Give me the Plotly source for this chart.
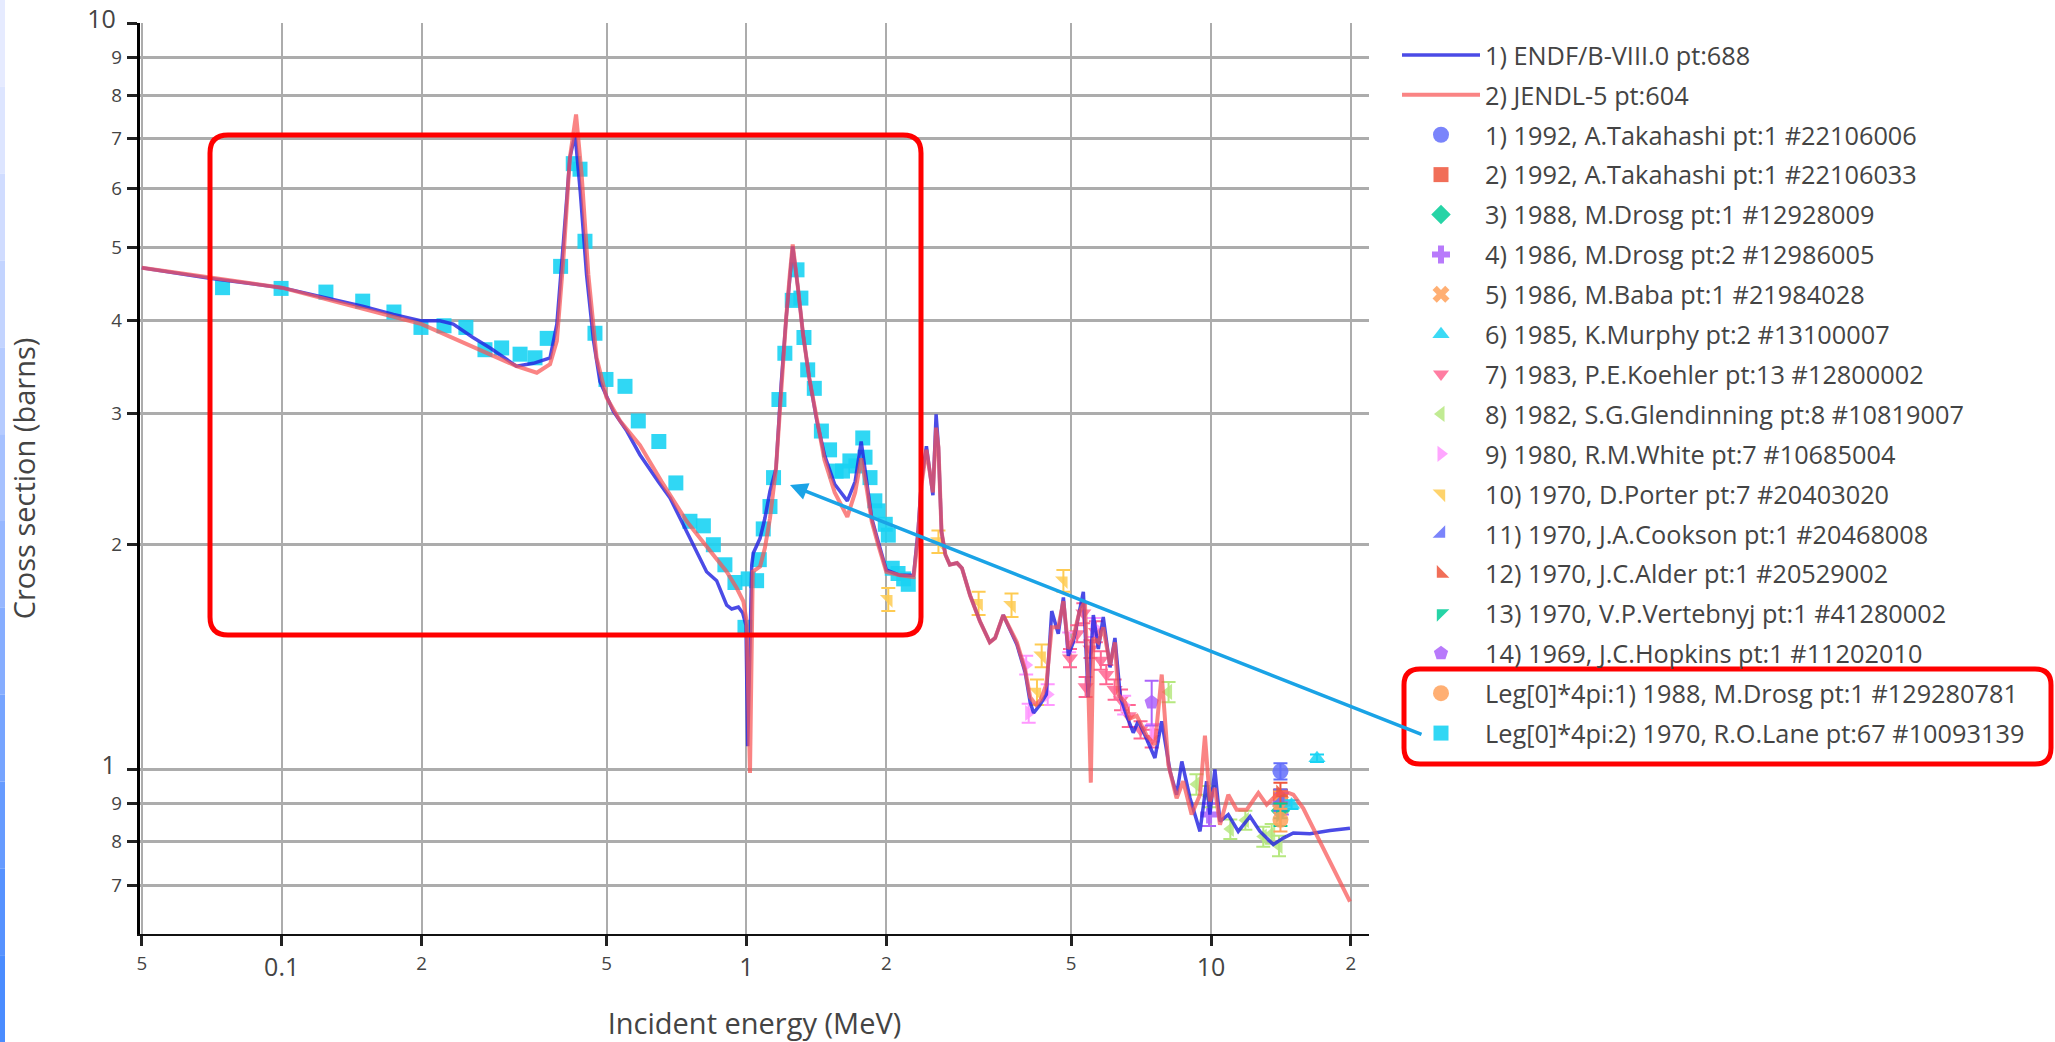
import plotly.graph_objects as go

# ---------------- evaluated data ----------------
endf_e = [0.05, 0.07, 0.10, 0.125, 0.15, 0.174, 0.20, 0.219, 0.234, 0.258, 0.281, 0.32, 0.348, 0.378,
          0.391, 0.404, 0.417, 0.428, 0.439, 0.453, 0.469, 0.484, 0.517, 0.553, 0.59, 0.646, 0.685,
          0.72, 0.769, 0.821, 0.863, 0.907, 0.93, 0.961, 0.982, 0.998, 1.0065, 1.027, 1.035, 1.07,
          1.096, 1.124, 1.158, 1.188, 1.218, 1.24, 1.258, 1.291, 1.324, 1.365, 1.418, 1.472, 1.549,
          1.649, 1.714, 1.766, 1.815, 1.861, 1.921, 2.0, 2.14, 2.29, 2.34, 2.38, 2.44, 2.52, 2.56,
          2.59, 2.63, 2.68, 2.74, 2.84, 2.91, 3.03, 3.18, 3.34, 3.43, 3.57, 3.82, 3.98, 4.08, 4.15,
          4.28, 4.42, 4.54, 4.69, 4.81, 4.93, 5.05, 5.31, 5.44, 5.58, 5.72, 5.86, 6.06, 6.21, 6.38,
          6.58, 6.80, 6.97, 7.21, 7.57, 7.83, 8.16, 8.43, 8.65, 9.01, 9.465, 9.78, 9.94, 10.19,
          10.45, 10.89, 11.44, 12.13, 12.74, 13.61, 14.30, 15.03, 16.32, 18.03, 19.90]
endf_xs = [4.70, 4.55, 4.42, 4.28, 4.17, 4.07, 3.99, 3.99, 3.95, 3.79, 3.67, 3.47, 3.50, 3.56,
           3.95, 5.10, 6.60, 7.09, 5.95, 4.60, 3.75, 3.31, 3.02, 2.84, 2.64, 2.43, 2.31,
           2.17, 2.00, 1.84, 1.79, 1.66, 1.64, 1.65, 1.62, 1.56, 1.074, 1.88, 1.95, 2.04,
           2.17, 2.36, 2.53, 3.28, 4.03, 4.60, 5.02, 4.42, 3.83, 3.35, 2.93, 2.64, 2.41,
           2.29, 2.43, 2.75, 2.41, 2.17, 2.02, 1.85, 1.82, 1.82, 2.08, 2.43, 2.71, 2.33, 2.99,
           2.70, 2.08, 1.94, 1.88, 1.89, 1.86, 1.71, 1.58, 1.48, 1.50, 1.61, 1.47, 1.35, 1.23, 1.19,
           1.22, 1.26, 1.63, 1.52, 1.70, 1.42, 1.48, 1.73, 1.25, 1.61, 1.45, 1.60, 1.37, 1.50, 1.25,
           1.18, 1.12, 1.16, 1.11, 1.036, 1.16, 0.994, 0.925, 1.025, 0.915, 0.826, 0.964, 0.870, 1.0,
           0.852, 0.870, 0.826, 0.865, 0.826, 0.793, 0.809, 0.822, 0.820, 0.828, 0.834]

jendl_e = [0.05, 0.10, 0.20, 0.219, 0.242, 0.281, 0.32, 0.354, 0.378, 0.391, 0.404, 0.417, 0.430,
           0.442, 0.457, 0.476, 0.50, 0.535, 0.59, 0.657, 0.696, 0.744, 0.795, 0.849, 0.907, 0.953,
           0.985, 1.001, 1.018, 1.032, 1.07, 1.096, 1.124, 1.158, 1.188, 1.218, 1.24, 1.258, 1.291,
           1.324, 1.365, 1.418, 1.472, 1.549, 1.649, 1.714, 1.766, 1.815, 1.861, 1.921, 2.0, 2.14,
           2.29, 2.34, 2.38, 2.44, 2.52, 2.56, 2.59, 2.63, 2.68, 2.74, 2.84, 2.91, 3.03, 3.18, 3.34,
           3.43, 3.57, 3.82, 3.98, 4.08, 4.20, 4.30, 4.42, 4.54, 4.69, 4.81, 4.93, 5.05, 5.20, 5.35,
           5.44, 5.51, 5.58, 5.72, 5.86, 6.06, 6.21, 6.31, 6.53, 6.69, 6.92, 7.27, 7.57, 7.83, 8.09,
           8.43, 8.71, 9.08, 9.465, 9.70, 9.94, 10.19, 10.45, 10.89, 11.35, 11.93, 12.64, 13.17,
           13.84, 14.42, 15.03, 15.79, 16.87, 18.32, 19.90]
jendl_xs = [4.70, 4.42, 3.95, 3.85, 3.75, 3.60, 3.47, 3.40, 3.49, 3.75, 4.85, 6.60, 7.54,
            6.27, 4.60, 3.56, 3.15, 2.93, 2.72, 2.43, 2.29, 2.15, 2.04, 1.94, 1.84, 1.75,
            1.68, 1.58, 0.989, 1.84, 1.87, 1.98, 2.17, 2.53, 3.28, 4.03, 4.60, 5.05, 4.42,
            3.83, 3.35, 2.93, 2.60, 2.35, 2.18, 2.35, 2.61, 2.38, 2.15, 2.00, 1.84, 1.82,
            1.81, 2.05, 2.40, 2.68, 2.35, 2.87, 2.70, 2.08, 1.94, 1.88, 1.89, 1.86, 1.71, 1.58, 1.48,
            1.50, 1.61, 1.48, 1.36, 1.25, 1.22, 1.24, 1.30, 1.55, 1.55, 1.68, 1.45, 1.50, 1.62, 1.68,
            1.30, 0.96, 1.50, 1.48, 1.55, 1.38, 1.48, 1.26, 1.23, 1.17, 1.18, 1.11, 1.079, 1.34, 1.015,
            0.915, 0.964, 0.870, 0.925, 1.11, 0.906, 0.944, 0.843, 0.925, 0.883, 0.883, 0.930, 0.897,
            0.925, 0.934, 0.925, 0.887, 0.817, 0.737, 0.665]

# ---------------- experimental data ----------------
takahashi1_e, takahashi1_xs, takahashi1_err = [14.1], [0.994], [0.025]
takahashi2_e, takahashi2_xs, takahashi2_err = [14.1], [0.92], [0.02]
drosg88_e, drosg88_xs, drosg88_err = [14.1], [0.88], [0.02]
drosg86_e, drosg86_xs, drosg86_err = [9.9, 14.2], [0.87, 0.90], [0.03, 0.03]
baba_e, baba_xs, baba_err = [14.1], [0.905], [0.03]
murphy_e, murphy_xs, murphy_err = [14.9, 16.9], [0.897, 1.035], [0.012, 0.012]
koehler_e = [4.97, 5.15, 5.31, 5.37, 5.50, 5.65, 5.79, 5.95, 6.20, 6.40, 6.65, 7.05, 7.45]
koehler_xs = [1.41, 1.52, 1.62, 1.29, 1.45, 1.53, 1.40, 1.34, 1.28, 1.24, 1.18, 1.13, 1.10]
koehler_err = [0.04, 0.04, 0.05, 0.04, 0.04, 0.05, 0.04, 0.04, 0.04, 0.04, 0.04, 0.03, 0.03]
glendinning_e = [8.1, 9.3, 9.9, 11.0, 11.85, 12.95, 13.5, 14.0]
glendinning_xs = [1.27, 0.955, 0.92, 0.832, 0.855, 0.813, 0.82, 0.79]
glendinning_err = [0.04, 0.03, 0.03, 0.025, 0.025, 0.025, 0.025, 0.025]
white_e = [4.00, 4.05, 4.45, 4.95, 5.60, 6.50, 7.50]
white_xs = [1.38, 1.19, 1.26, 1.48, 1.55, 1.22, 1.12]
white_err = [0.04, 0.035, 0.04, 0.045, 0.045, 0.035, 0.03]
porter_e = [2.02, 2.59, 3.16, 3.72, 4.22, 4.32, 4.81]
porter_xs = [1.69, 2.02, 1.67, 1.66, 1.27, 1.42, 1.79]
porter_err = [0.06, 0.07, 0.06, 0.06, 0.05, 0.05, 0.06]
cookson_e, cookson_xs, cookson_err = [14.1], [0.91], [0.03]
alder_e, alder_xs, alder_err = [14.1], [0.93], [0.03]
vertebnyj_e, vertebnyj_xs, vertebnyj_err = [14.1], [0.87], [0.03]
hopkins_e, hopkins_xs, hopkins_err = [7.45], [1.23], [0.085]
legdrosg_e, legdrosg_xs, legdrosg_err = [14.1], [0.856], [0.03]
lane_e = [0.0746, 0.0997, 0.1245, 0.1494, 0.1744, 0.1994, 0.2235, 0.2491, 0.2738, 0.2974, 0.3258,
          0.3508, 0.3727, 0.3983, 0.4241, 0.4385, 0.4494, 0.4722, 0.4987, 0.548, 0.5853, 0.648,
          0.705, 0.756, 0.808, 0.849, 0.899, 0.945, 0.993, 1.009, 1.052, 1.066, 1.087, 1.124, 1.144,
          1.175, 1.21, 1.255, 1.285, 1.31, 1.33, 1.355, 1.40, 1.45, 1.51, 1.56, 1.61, 1.67, 1.72,
          1.78, 1.80, 1.845, 1.89, 1.92, 1.99, 2.02, 2.06, 2.12, 2.18, 2.23]
lane_xs = [4.42, 4.41, 4.36, 4.24, 4.10, 3.91, 3.93, 3.91, 3.65, 3.67, 3.60,
           3.56, 3.78, 4.72, 6.48, 6.37, 5.10, 3.84, 3.33, 3.26, 2.93, 2.75,
           2.42, 2.15, 2.12, 2.00, 1.88, 1.78, 1.55, 1.80, 1.79, 1.91, 2.10, 2.25, 2.46,
           3.13, 3.61, 4.25, 4.67, 4.28, 3.79, 3.43, 3.24, 2.84, 2.68, 2.51, 2.51, 2.59, 2.55,
           2.78, 2.62, 2.46, 2.29, 2.22, 2.13, 2.06, 1.86, 1.83, 1.80, 1.77]

exp_names = ["1) 1992, A.Takahashi pt:1 #22106006", "2) 1992, A.Takahashi pt:1 #22106033",
             "3) 1988, M.Drosg pt:1 #12928009", "4) 1986, M.Drosg pt:2 #12986005",
             "5) 1986, M.Baba pt:1 #21984028", "6) 1985, K.Murphy pt:2 #13100007",
             "7) 1983, P.E.Koehler pt:13 #12800002", "8) 1982, S.G.Glendinning pt:8 #10819007",
             "9) 1980, R.M.White pt:7 #10685004", "10) 1970, D.Porter pt:7 #20403020",
             "11) 1970, J.A.Cookson pt:1 #20468008", "12) 1970, J.C.Alder pt:1 #20529002",
             "13) 1970, V.P.Vertebnyj pt:1 #41280002", "14) 1969, J.C.Hopkins pt:1 #11202010",
             "Leg[0]*4pi:1) 1988, M.Drosg pt:1 #129280781", "Leg[0]*4pi:2) 1970, R.O.Lane pt:67 #10093139"]
exp_e = [takahashi1_e, takahashi2_e, drosg88_e, drosg86_e, baba_e, murphy_e, koehler_e,
         glendinning_e, white_e, porter_e, cookson_e, alder_e, vertebnyj_e, hopkins_e, legdrosg_e, lane_e]
exp_xs = [takahashi1_xs, takahashi2_xs, drosg88_xs, drosg86_xs, baba_xs, murphy_xs, koehler_xs,
          glendinning_xs, white_xs, porter_xs, cookson_xs, alder_xs, vertebnyj_xs, hopkins_xs,
          legdrosg_xs, lane_xs]
exp_err = [takahashi1_err, takahashi2_err, drosg88_err, drosg86_err, baba_err, murphy_err, koehler_err,
           glendinning_err, white_err, porter_err, cookson_err, alder_err, vertebnyj_err, hopkins_err,
           legdrosg_err, None]
exp_symbols = ["circle", "square", "diamond", "cross", "x", "triangle-up", "triangle-down",
               "triangle-left", "triangle-right", "triangle-ne", "triangle-se", "triangle-sw",
               "triangle-nw", "pentagon", "circle", "square"]
exp_colors = ["#636EFA", "#EF553B", "#00CC96", "#AB63FA", "#FFA15A", "#19D3F3", "#FF6692",
              "#B6E880", "#FF97FF", "#FECB52", "#636EFA", "#EF553B", "#00CC96", "#AB63FA",
              "#FFA15A", "#19D3F3"]
exp_sizes = [16, 15, 15, 15, 15, 15, 14, 14, 14, 14, 14, 14, 14, 15, 16, 15]

# ---------------- geometry (pixels) ----------------
W, H = 2055, 1042
ML, MR, MT, MB = 140, 686, 23, 108
PW = W - ML - MR
PH = H - MT - MB


def px(xf):
    return (xf - ML) / PW


def py(yf):
    return (H - MB - yf) / PH


fig = go.Figure()

# experimental points (drawn first, under the lines)
for i in range(len(exp_names)):
    err = exp_err[i]
    fig.add_trace(go.Scatter(
        x=exp_e[i], y=exp_xs[i], mode="markers", name=exp_names[i],
        legendgroup="g%d" % (i + 2), legendrank=10 + i,
        marker=dict(symbol=exp_symbols[i], color=exp_colors[i], size=exp_sizes[i],
                    opacity=0.85 if i != 15 else 0.9, line=dict(width=0)),
        error_y=(dict(type="data", array=err, visible=True, color=exp_colors[i],
                      thickness=2, width=7) if err is not None else None),
    ))

# evaluated curves on top
fig.add_trace(go.Scatter(x=endf_e, y=endf_xs, mode="lines", name="1) ENDF/B-VIII.0 pt:688",
                         legendgroup="g0", legendrank=1,
                         line=dict(color="rgba(35,35,225,0.82)", width=3.5)))
fig.add_trace(go.Scatter(x=jendl_e, y=jendl_xs, mode="lines", name="2) JENDL-5 pt:604",
                         legendgroup="g1", legendrank=2,
                         line=dict(color="rgba(248,85,85,0.72)", width=4)))

axis_font = dict(family="Open Sans", size=25, color="#444")

fig.update_xaxes(type="log", range=[-1.3049, 1.3398], dtick="D2", automargin=False,
                 showgrid=True, gridcolor="#acacac", gridwidth=2,
                 showline=True, linecolor="#111", linewidth=2,
                 ticks="outside", ticklen=10, tickwidth=2.5, tickcolor="#222",
                 tickfont=axis_font,
                 title=dict(text="Incident energy (MeV)", font=dict(family="Open Sans", size=29, color="#444"),
                            standoff=34))
fig.update_yaxes(type="log", range=[-0.2205, 1.0], dtick="D1", automargin=False,
                 showgrid=True, gridcolor="#acacac", gridwidth=2.5,
                 showline=True, linecolor="#000", linewidth=3,
                 ticks="outside", ticklen=10, tickwidth=2.5, tickcolor="#222",
                 tickfont=axis_font,
                 title=dict(text="Cross section (barns)", font=dict(family="Open Sans", size=29, color="#444"),
                            standoff=44))


def rounded_rect(x0, y0, x1, y1, r):
    a0, a1 = px(x0), px(x1)
    b0, b1 = py(y0), py(y1)
    rx, ry = r / PW, r / PH
    return ("M {},{} L {},{} Q {},{} {},{} L {},{} Q {},{} {},{} L {},{} Q {},{} {},{} L {},{} Q {},{} {},{} Z"
            .format(a0 + rx, b0, a1 - rx, b0, a1, b0, a1, b0 - ry, a1, b1 + ry, a1, b1, a1 - rx, b1,
                    a0 + rx, b1, a0, b1, a0, b1 + ry, a0, b0 - ry, a0, b0, a0 + rx, b0))


shapes = [
    dict(type="path", xref="paper", yref="paper", path=rounded_rect(210, 135, 921, 635, 18),
         line=dict(color="#ff0000", width=5)),
    dict(type="path", xref="paper", yref="paper", path=rounded_rect(1404, 669, 2051, 764, 16),
         line=dict(color="#ff0000", width=5)),
]

# left window edge strip (light to saturated blue)
strip_cols = ["#e6ebff", "#dde5ff", "#d0dcff", "#c3d4ff", "#b5cbff", "#a6c1ff", "#96b7ff",
              "#86adff", "#76a4ff", "#669bff", "#5692ff", "#4a8cff"]
n = len(strip_cols)
for k, c in enumerate(strip_cols):
    shapes.append(dict(type="rect", xref="paper", yref="paper", x0=px(0), x1=px(5),
                       y0=py(H * (k + 1) / n), y1=py(H * k / n), fillcolor=c, line=dict(width=0),
                       layer="above"))

fig.update_layout(
    width=W, height=H,
    margin=dict(l=ML, r=MR, t=MT, b=MB, pad=0, autoexpand=False),
    paper_bgcolor="white", plot_bgcolor="white",
    font=dict(family="Open Sans", size=25, color="#444"),
    showlegend=True,
    legend=dict(x=px(1397), xanchor="left", y=py(32), yanchor="top",
                font=dict(family="Open Sans", size=25.3, color="#444"),
                itemwidth=78, tracegroupgap=4, bgcolor="rgba(0,0,0,0)"),
    shapes=shapes,
    annotations=[dict(x=px(790), y=py(485), xref="paper", yref="paper", text="",
                      showarrow=True, arrowhead=2, arrowsize=1, arrowwidth=3.5,
                      arrowcolor="#1aa3e6", ax=633, ay=250, standoff=0)],
)

fig.write_html("out.html", config={"displayModeBar": False},
               post_script="document.body.style.margin='0';document.body.style.overflow='hidden';")
